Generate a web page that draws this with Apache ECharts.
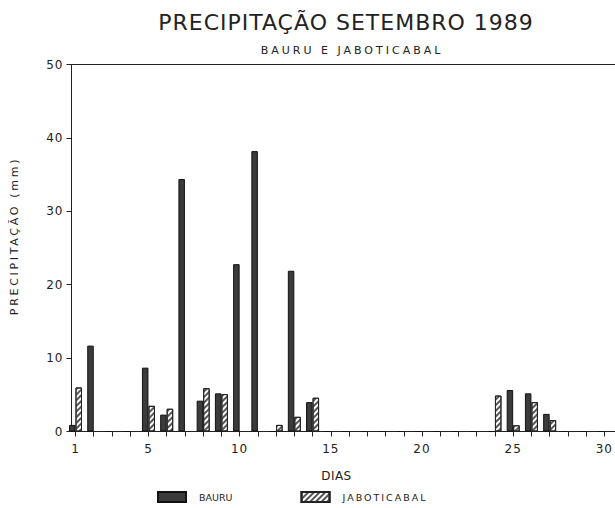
<!DOCTYPE html>
<html>
<head>
<meta charset="utf-8">
<script src="https://cdn.jsdelivr.net/npm/echarts@6/dist/echarts.min.js"></script>
<style>
html,body{margin:0;padding:0;background:#fff;}
#chart{width:615px;height:508px;}
</style>
</head>
<body>
<div id="chart"></div>
<script>
// Days of September 1989
const days = ['1','2','3','4','5','6','7','8','9','10','11','12','13','14','15','16','17','18','19','20','21','22','23','24','25','26','27','28','29','30'];
// Precipitation (mm) - Bauru
const bauru = [0.9, 11.7, 0, 0, 8.7, 2.3, 34.4, 4.2, 5.2, 22.8, 38.2, 0, 21.9, 4.0, 0, 0, 0, 0, 0, 0, 0, 0, 0, 0, 5.65, 5.2, 2.4, 0, 0, 0];
// Precipitation (mm) - Jaboticabal
const jaboticabal = [6.0, 0, 0, 0, 3.5, 3.1, 0, 5.9, 5.1, 0, 0, 0.9, 2.0, 4.6, 0, 0, 0, 0, 0, 0, 0, 0, 0, 4.9, 0.85, 4.0, 1.55, 0, 0, 0];
// Labelled days on the x axis
const labelledDays = ['1','5','10','15','20','25','30'];
// Y axis
const yMin = 0, yMax = 50, yStep = 10;

const FONT = 'DejaVu Sans';
const INK = '#222';
const TITLE = 'PRECIPITAÇÃO SETEMBRO 1989';
const SUBTITLE = 'BAURU E JABOTICABAL';
const YNAME = 'PRECIPITAÇÃO (mm)';

const chart = echarts.init(document.getElementById('chart'), null, {renderer: 'svg'});
const option = {
  backgroundColor: '#fff',
  animation: false,
  title: [
    {text: TITLE, left: 346, textAlign: 'center', top: 11, padding: 0,
     textStyle: {fontFamily: FONT, fontSize: 22, fontWeight: 'normal', color: INK}},
    {text: SUBTITLE, left: 352, textAlign: 'center', top: 45, padding: 0,
     textStyle: {fontFamily: FONT, fontSize: 11, fontWeight: 'normal', color: INK}}
  ],
  legend: {
    left: 157, top: 491, padding: 0,
    itemWidth: 28, itemHeight: 10, itemGap: 68,
    icon: 'rect',
    textStyle: {fontFamily: FONT, fontSize: 9.5, color: INK, padding: [0, 0, 0, 8]},
    data: ['BAURU', 'JABOTICABAL']
  },
  grid: [
    {left: 71.5, right: 0, top: 64.5, bottom: 76.5},
    {left: 75.5, right: 10, top: 64.5, bottom: 76.5}
  ],
  xAxis: [
    {gridIndex: 0, type: 'value', min: 0, max: 1, position: 'bottom',
     axisLine: {show: true, lineStyle: {color: INK, width: 1}},
     axisTick: {show: false}, axisLabel: {show: false}, splitLine: {show: false}},
    {gridIndex: 0, type: 'value', min: 0, max: 1, position: 'top',
     axisLine: {show: true, lineStyle: {color: INK, width: 1}},
     axisTick: {show: false}, axisLabel: {show: false}, splitLine: {show: false}},
    {gridIndex: 1, type: 'category', data: days, boundaryGap: false, position: 'bottom',
     name: 'DIAS', nameLocation: 'middle', nameGap: 38,
     nameTextStyle: {fontFamily: FONT, fontSize: 12, color: INK, padding: [0, 7, 0, 0]},
     axisLine: {show: false},
     axisTick: {show: true, interval: 0, length: 5, inside: false, lineStyle: {color: INK}},
     axisLabel: {interval: function (i, v) { return labelledDays.indexOf(v) >= 0; },
                 margin: 11, fontFamily: FONT, fontSize: 12, color: INK},
     splitLine: {show: false}}
  ],
  yAxis: [
    {gridIndex: 0, type: 'value', min: yMin, max: yMax, interval: yStep,
     name: YNAME, nameLocation: 'middle', nameGap: 52, nameRotate: 90,
     nameTextStyle: {fontFamily: FONT, fontSize: 11, color: INK, padding: [0, 0, 0, 24]},
     axisLine: {show: true, lineStyle: {color: INK, width: 1}},
     axisTick: {show: true, length: 5, inside: false, lineStyle: {color: INK}},
     axisLabel: {margin: 8, fontFamily: FONT, fontSize: 12, color: INK},
     splitLine: {show: false}},
    {gridIndex: 1, type: 'value', min: yMin, max: yMax, interval: yStep, show: false,
     splitLine: {show: false}}
  ],
  series: [
    {name: 'BAURU', type: 'bar', xAxisIndex: 2, yAxisIndex: 1, data: bauru,
     barWidth: 6.5, barGap: '0%', clip: false,
     itemStyle: {color: '#3b3b3b', borderColor: '#111', borderWidth: 1}},
    {name: 'JABOTICABAL', type: 'bar', xAxisIndex: 2, yAxisIndex: 1, data: jaboticabal,
     barWidth: 6.5, barGap: '0%', clip: false,
     itemStyle: {color: '#ffffff', borderColor: '#222', borderWidth: 1,
       decal: {symbol: 'rect', symbolSize: 1, color: '#555', dashArrayX: [1, 0], dashArrayY: [1.2, 1.8], rotation: -Math.PI / 4}}}
  ]
};
chart.setOption(option);

// letter spacing of the lettering (typographic styling only)
const spacing = {};
spacing[TITLE] = '1px';
spacing[SUBTITLE] = '3px';
spacing[YNAME] = '2.7px';
spacing['JABOTICABAL'] = '2px';
spacing['DIAS'] = '0.5px';
function applySpacing() {
  const texts = chart.getDom().querySelectorAll('text');
  texts.forEach(function (t) {
    const s = t.textContent;
    if (spacing[s]) {
      t.style.letterSpacing = spacing[s];
    } else if (/^\d+$/.test(s)) {
      t.style.letterSpacing = '1px';
    }
  });
}
applySpacing();
chart.on('finished', applySpacing);
</script>
</body>
</html>
